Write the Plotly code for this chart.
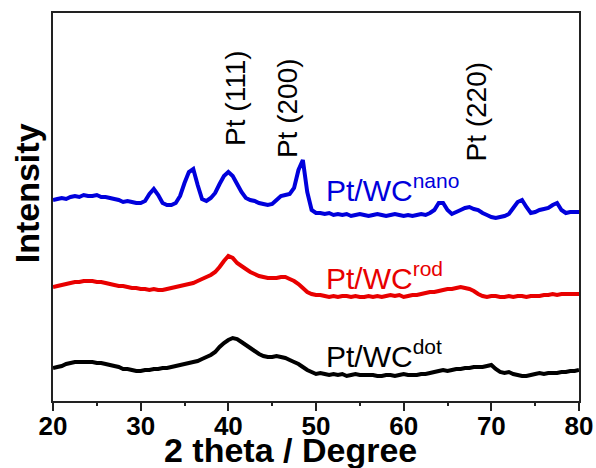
import plotly.graph_objects as go

# 2-theta grid (degrees), 0.5 deg step from 20 to 80
two_theta = [20 + 0.5 * i for i in range(121)]

# Intensities (a.u., offset stacked)
nano = [201, 202, 203, 202, 204, 205, 204, 206, 205, 205,
        206, 204, 204, 203, 202, 201, 199, 200, 199, 198,
        198, 200, 207, 212, 206, 198, 196, 196, 198, 205,
        218, 229, 232, 216, 202, 200, 203, 208, 217, 225,
        229, 225, 217, 209, 203, 201, 200, 198, 197, 196,
        197, 201, 205, 206, 207, 213, 231, 241, 209, 191,
        188, 188, 187, 188, 186, 187, 186, 187, 185, 186,
        187, 186, 185, 186, 187, 186, 185, 186, 187, 186,
        185, 186, 185, 186, 187, 186, 188, 191, 198, 198,
        191, 187, 189, 191, 193, 194, 192, 191, 188, 186,
        184, 183, 184, 185, 187, 193, 199, 201, 194, 188,
        189, 191, 192, 193, 196, 198, 191, 188, 189, 189,
        189]

rod = [114, 115, 116, 117, 118, 119, 119, 120, 120, 120,
       119, 119, 118, 117, 116, 115, 115, 114, 113, 113,
       112, 112, 111, 112, 111, 111, 112, 113, 114, 115,
       116, 117, 118, 120, 122, 124, 126, 129, 134, 140,
       145, 143, 138, 135, 132, 129, 127, 125, 124, 123,
       123, 123, 124, 124, 122, 120, 117, 113, 109, 107,
       106, 106, 105, 104, 105, 104, 105, 105, 104, 105,
       104, 104, 105, 104, 105, 104, 105, 106, 105, 106,
       104, 105, 106, 106, 107, 108, 109, 109, 110, 111,
       112, 112, 113, 114, 113, 112, 110, 107, 105, 104,
       105, 105, 104, 104, 105, 104, 105, 105, 104, 105,
       105, 105, 106, 106, 107, 106, 107, 107, 107, 107,
       107]

dot = [33, 34, 35, 37, 38, 39, 39, 39, 39, 39,
       38, 38, 37, 36, 35, 34, 32, 32, 31, 30,
       30, 31, 31, 32, 32, 33, 33, 34, 35, 36,
       37, 38, 39, 40, 42, 44, 46, 49, 54, 58,
       61, 63, 62, 59, 56, 53, 50, 47, 45, 44,
       44, 45, 44, 43, 41, 39, 37, 34, 31, 29,
       27, 28, 27, 26, 27, 26, 27, 25, 26, 27,
       26, 26, 26, 26, 25, 25, 26, 26, 25, 26,
       27, 26, 26, 26, 27, 27, 28, 29, 30, 31,
       30, 31, 32, 32, 33, 33, 34, 34, 34, 35,
       36, 32, 29, 28, 29, 27, 26, 25, 25, 26,
       27, 28, 27, 28, 28, 28, 29, 29, 30, 30,
       31]

x_ticks = [20, 30, 40, 50, 60, 70, 80]

peak_labels = ["Pt (111)", "Pt (200)", "Pt (220)"]
peak_pos = [40.75, 46.7, 68.2]

sample_names = ["Pt/WC<sup>nano</sup>", "Pt/WC<sup>rod</sup>", "Pt/WC<sup>dot</sup>"]

FONT = "Arial, Liberation Sans, sans-serif"
colors = ["#0000dc", "#e80000", "#000000"]

fig = go.Figure()
for ys, c in zip([dot, rod, nano], [colors[2], colors[1], colors[0]]):
    fig.add_trace(go.Scatter(x=two_theta, y=ys, mode="lines",
                             line=dict(color=c, width=4, simplify=False),
                             showlegend=False, hoverinfo="skip"))

anns = []
for lab, xp, yv in zip(peak_labels, peak_pos, [303, 293, 289]):
    anns.append(dict(x=xp, y=yv, xref="x", yref="y", text=lab, textangle=-90,
                     showarrow=False, font=dict(family=FONT, size=28, color="black"),
                     xanchor="center", yanchor="middle"))
for name, yv, c in zip(sample_names, [213, 125, 47], colors):
    anns.append(dict(x=50.9, y=yv, xref="x", yref="y", text=name, showarrow=False,
                     font=dict(family=FONT, size=30, color=c),
                     xanchor="left", yanchor="middle"))
anns.append(dict(x=0.4506, y=-0.127, xref="paper", yref="paper",
                 text="2 theta / Degree", showarrow=False,
                 font=dict(family=FONT, size=34, color="black", weight="bold"),
                 xanchor="center", yanchor="middle"))
anns.append(dict(x=-0.049, y=0.536, xref="paper", yref="paper",
                 text="Intensity", showarrow=False, textangle=-90,
                 font=dict(family=FONT, size=34, color="black", weight="bold"),
                 xanchor="center", yanchor="middle"))

fig.update_layout(
    width=596, height=468,
    margin=dict(l=53, r=17, t=13, b=67, autoexpand=False),
    paper_bgcolor="white", plot_bgcolor="white",
    annotations=anns,
    xaxis=dict(range=[20, 80], tickvals=x_ticks, ticks="outside", ticklen=8,
               tickwidth=1.5, tickcolor="#222", automargin=False,
               ticklabelstandoff=-7,
               minor=dict(dtick=5, ticks="outside", ticklen=3, tickwidth=1.5, tickcolor="#222"),
               showline=True, linecolor="#222", linewidth=1.5, mirror=True,
               showgrid=False, zeroline=False,
               tickfont=dict(family=FONT, size=26, color="black", weight="bold")),
    yaxis=dict(range=[0, 388], showticklabels=False, ticks="", automargin=False,
               showline=True, linecolor="#222", linewidth=1.5, mirror=True,
               showgrid=False, zeroline=False),
)

# remove the default 8px page margin so the 596x468 figure fills the window
fig.write_html("out.html",
               config={"displayModeBar": False},
               post_script="document.body.style.margin='0';"
                           "document.body.style.overflow='hidden';")
